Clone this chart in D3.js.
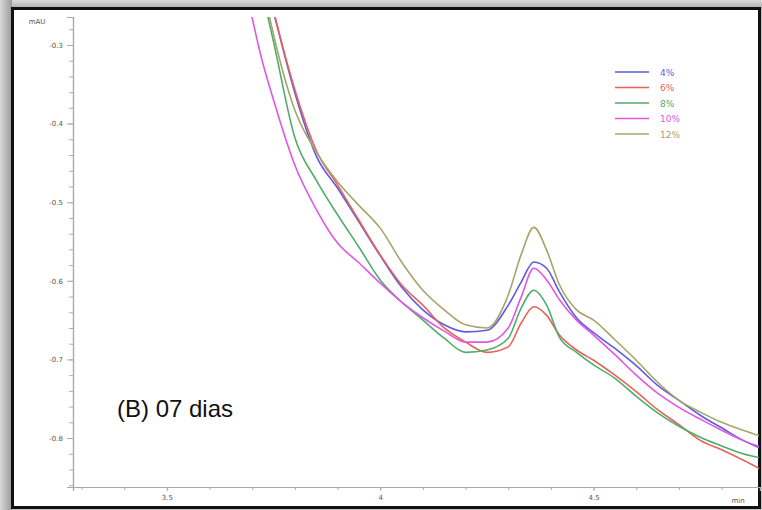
<!DOCTYPE html>
<html>
<head>
<meta charset="utf-8">
<script src="https://cdn.jsdelivr.net/npm/d3@7"></script>
<style>
  body { margin: 0; background: #c4c4c4; }
  #chart svg { display: block; }
</style>
</head>
<body>
<div id="chart"></div>
<script>
// retention time (min)
const times = [3.65, 3.70, 3.72, 3.75, 3.80, 3.85, 3.90, 3.95, 4.00, 4.05, 4.10, 4.15, 4.20, 4.25, 4.30,
  4.33, 4.36, 4.39, 4.42, 4.46, 4.50, 4.55, 4.60, 4.65, 4.70, 4.75, 4.80, 4.85, 4.90];

// absorbance (mAU) for each series
const pct4 = [-0.05, -0.128, -0.192, -0.258, -0.361, -0.441, -0.482, -0.525, -0.568, -0.608, -0.637, -0.656, -0.665, -0.663, -0.631,
  -0.602, -0.576, -0.584, -0.614, -0.647, -0.666, -0.686, -0.708, -0.733, -0.752, -0.771, -0.787, -0.803, -0.815];
const pct6 = [-0.05, -0.128, -0.186, -0.256, -0.357, -0.434, -0.478, -0.523, -0.567, -0.605, -0.631, -0.660, -0.678, -0.691, -0.684,
  -0.654, -0.633, -0.644, -0.669, -0.688, -0.701, -0.720, -0.741, -0.764, -0.783, -0.803, -0.815, -0.828, -0.842];
const pct8 = [-0.05, -0.173, -0.224, -0.296, -0.418, -0.472, -0.516, -0.557, -0.599, -0.627, -0.650, -0.673, -0.691, -0.688, -0.673,
  -0.635, -0.612, -0.631, -0.672, -0.691, -0.707, -0.724, -0.747, -0.768, -0.785, -0.799, -0.810, -0.820, -0.826];
const pct10 = [-0.15, -0.266, -0.313, -0.370, -0.453, -0.509, -0.552, -0.577, -0.603, -0.627, -0.647, -0.664, -0.678, -0.678, -0.660,
  -0.621, -0.584, -0.599, -0.624, -0.650, -0.669, -0.694, -0.720, -0.743, -0.761, -0.776, -0.790, -0.803, -0.813];
const pct12 = [-0.05, -0.154, -0.211, -0.287, -0.383, -0.436, -0.474, -0.504, -0.533, -0.576, -0.612, -0.637, -0.656, -0.660, -0.618,
  -0.567, -0.532, -0.561, -0.605, -0.637, -0.650, -0.675, -0.701, -0.729, -0.752, -0.767, -0.780, -0.790, -0.799];

const seriesNames = ["4%", "6%", "8%", "10%", "12%"];
const seriesColors = ["#5c5ce0", "#e8625c", "#4fae6a", "#e256e2", "#a8a46c"];
const seriesValues = [pct4, pct6, pct8, pct10, pct12];

const yTicks = [-0.3, -0.4, -0.5, -0.6, -0.7, -0.8];
const xTicks = [3.5, 4, 4.5];

const w = 762;
const h = 510;

const xScale = d3.scaleLinear().domain([3.28, 4.89]).range([73, 760]);
const yScale = d3.scaleLinear().domain([-0.8623, -0.2644]).range([487, 17]);

const svg = d3.select("#chart")
  .append("svg")
  .attr("width", w)
  .attr("height", h);

// shadow + frame
const defs = svg.append("defs");
const grad = defs.append("linearGradient")
  .attr("id", "shade").attr("x1", 0).attr("x2", 1).attr("y1", 0).attr("y2", 0);
grad.append("stop").attr("offset", "0%").attr("stop-color", "#d8d8d8");
grad.append("stop").attr("offset", "100%").attr("stop-color", "#9a9a9a");
const gradTop = defs.append("linearGradient")
  .attr("id", "shadeTop").attr("x1", 0).attr("x2", 0).attr("y1", 0).attr("y2", 1);
gradTop.append("stop").attr("offset", "0%").attr("stop-color", "#dcdcdc");
gradTop.append("stop").attr("offset", "100%").attr("stop-color", "#a4a4a4");
svg.append("rect").attr("x", 0).attr("y", 0).attr("width", w).attr("height", 10).attr("fill", "url(#shadeTop)");
svg.append("rect").attr("x", 0).attr("y", 0).attr("width", 12).attr("height", h).attr("fill", "url(#shade)");

svg.append("rect")
  .attr("x", 12.5).attr("y", 8.5)
  .attr("width", 747).attr("height", 499)
  .attr("fill", "#fff")
  .attr("stroke", "#111")
  .attr("stroke-width", 3);

defs.append("clipPath").attr("id", "plot")
  .append("rect").attr("x", 73).attr("y", 17).attr("width", 686).attr("height", 470);

// axes
const yMinor = d3.range(-0.86, -0.27, 0.02).map(d => +d.toFixed(2));
const xMinor = d3.range(3.3, 4.85, 0.1).map(d => +d.toFixed(1));

svg.append("g")
  .attr("class", "axis")
  .attr("transform", "translate(73,0)")
  .call(d3.axisLeft(yScale).tickValues(yMinor).tickSize(4).tickFormat(""));

svg.append("g")
  .attr("class", "axis")
  .attr("transform", "translate(73,0)")
  .call(d3.axisLeft(yScale).tickValues(yTicks).tickSize(6).tickPadding(4).tickFormat(d => d.toFixed(1)));

svg.append("g")
  .attr("class", "axis")
  .attr("transform", "translate(0,487)")
  .call(d3.axisBottom(xScale).tickValues(xMinor).tickSize(3).tickFormat(""));

svg.append("g")
  .attr("class", "axis")
  .attr("transform", "translate(0,487)")
  .call(d3.axisBottom(xScale).tickValues(xTicks).tickSize(4).tickPadding(4).tickFormat(d => String(d)));

svg.selectAll(".axis path.domain").attr("stroke", "#a8a8a8").attr("stroke-width", 1.2);
svg.selectAll(".axis .tick line").attr("stroke", "#b0b0b0");
svg.selectAll(".axis text")
  .attr("fill", "#555")
  .style("font-family", "DejaVu Sans")
  .style("font-size", "7px");

svg.append("text")
  .attr("x", 37).attr("y", 24)
  .attr("text-anchor", "middle")
  .attr("fill", "#555")
  .style("font-family", "DejaVu Sans")
  .style("font-size", "7px")
  .text("mAU");

svg.append("text")
  .attr("x", 738).attr("y", 503)
  .attr("text-anchor", "middle")
  .attr("fill", "#555")
  .style("font-family", "DejaVu Sans")
  .style("font-size", "7px")
  .text("min");

// traces
const line = d3.line()
  .x((d, i) => xScale(times[i]))
  .y(d => yScale(d))
  .curve(d3.curveMonotoneX);

svg.append("g")
  .attr("clip-path", "url(#plot)")
  .selectAll("path")
  .data(seriesValues)
  .enter()
  .append("path")
  .attr("d", d => line(d))
  .attr("fill", "none")
  .attr("stroke", (d, i) => seriesColors[i])
  .attr("stroke-width", 1.6);

// legend
const legend = svg.append("g").attr("transform", "translate(615,72)");
seriesNames.forEach((name, i) => {
  const row = legend.append("g").attr("transform", `translate(0,${i * 15.5})`);
  row.append("line")
    .attr("x1", 0).attr("x2", 34)
    .attr("stroke", seriesColors[i])
    .attr("stroke-width", 1.6);
  row.append("text")
    .attr("x", 45).attr("y", 3.5)
    .attr("fill", seriesColors[i])
    .style("font-family", "DejaVu Sans")
    .style("font-size", "9px")
    .text(name);
});

svg.append("text")
  .attr("x", 117).attr("y", 417)
  .attr("fill", "#111")
  .style("font-family", "Liberation Sans, Arial, sans-serif")
  .style("font-size", "24px")
  .text("(B) 07 dias");
</script>
</body>
</html>
